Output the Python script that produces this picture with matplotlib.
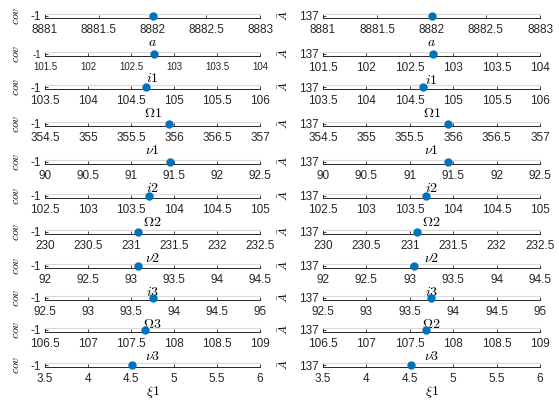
import matplotlib
matplotlib.use('Agg')
import matplotlib.pyplot as plt
from matplotlib.ticker import FormatStrFormatter, MultipleLocator

plt.rcParams['font.family'] = ['Liberation Sans', 'DejaVu Sans']
plt.rcParams['mathtext.fontset'] = 'cm'

# parameter names (x labels) for each row
labels_left = [r'$a$', r'$i1$', r'$\Omega1$', r'$\nu1$', r'$i2$', r'$\Omega2$',
               r'$\nu2$', r'$i3$', r'$\Omega3$', r'$\nu3$', r'$\xi1$']
labels_right = [r'$a$', r'$i1$', r'$\Omega1$', r'$\nu1$', r'$i2$', r'$\Omega2$',
                r'$\nu2$', r'$i3$', r'$\Omega2$', r'$\nu3$', r'$\xi1$']

# x ranges of each row
xlo = [8881, 101.5, 103.5, 354.5, 90, 102.5, 230, 92, 92.5, 106.5, 3.5]
xhi = [8883, 104, 106, 357, 92.5, 105, 232.5, 94.5, 95, 109, 6]

# point positions
x_cov = [8882.0, 102.77, 104.67, 355.94, 91.45, 103.71, 231.08, 93.08, 93.75, 107.66, 4.51]
x_abar = [8882.0, 102.77, 104.65, 355.94, 91.44, 103.69, 231.08, 93.05, 93.74, 107.69, 4.51]
cov_val = -1
abar_val = 137

W, H = 559, 407
fig = plt.figure(figsize=(W / 100, H / 100), dpi=100)

row_y = [17, 55, 88, 125, 163, 197, 233, 267, 299, 331, 366]
cols = [(45, 260), (323, 540)]
ylab_edge = [22, 291]   # right edge of the rotated y labels, px
ax_h = 4


def make_axes(x0, x1, y, xv, yv, lo, hi, xlab, ylab, yedge, fs=8.5, yfs=8.5):
    ax = fig.add_axes([x0 / W, 1 - (y + 1) / H, (x1 - x0) / W, ax_h / H])
    ax.plot([xv], [yv], 'o', color='#0072BD', markersize=5, clip_on=False, zorder=5)
    ax.set_xlim(lo, hi)
    ax.set_ylim(yv - 1, yv + 1)
    ax.set_yticks([yv])
    ax.xaxis.set_major_locator(MultipleLocator(0.5))
    ax.xaxis.set_major_formatter(FormatStrFormatter('%g'))
    ax.yaxis.set_major_formatter(FormatStrFormatter('%g'))
    ax.tick_params(direction='in', length=2.5, width=0.6, colors='#262626',
                   labelsize=fs)
    ax.tick_params(axis='x', pad=4.5)
    ax.tick_params(axis='y', pad=3)
    for s in ['left', 'bottom']:
        ax.spines[s].set_color('#262626')
        ax.spines[s].set_linewidth(0.7)
    ax.spines['top'].set_color('#d9d9d9')
    ax.spines['top'].set_linewidth(0.8)
    ax.spines['right'].set_visible(False)
    ax.set_xlabel(xlab, fontsize=10, labelpad=-1)
    ax.set_ylabel(ylab, fontsize=yfs)
    ax.yaxis.set_label_coords((yedge - x0) / (x1 - x0), 0.5)
    return ax


for i in range(len(row_y)):
    fs = 7 if i == 1 else 8.5
    make_axes(cols[0][0], cols[0][1], row_y[i], x_cov[i], cov_val,
              xlo[i], xhi[i], labels_left[i], r'$cov$', ylab_edge[0], fs, 8.5)
    make_axes(cols[1][0], cols[1][1], row_y[i], x_abar[i], abar_val,
              xlo[i], xhi[i], labels_right[i], r'$\bar{A}$', ylab_edge[1], 8.5, 8.5)

fig.savefig('out.png', dpi=100)
